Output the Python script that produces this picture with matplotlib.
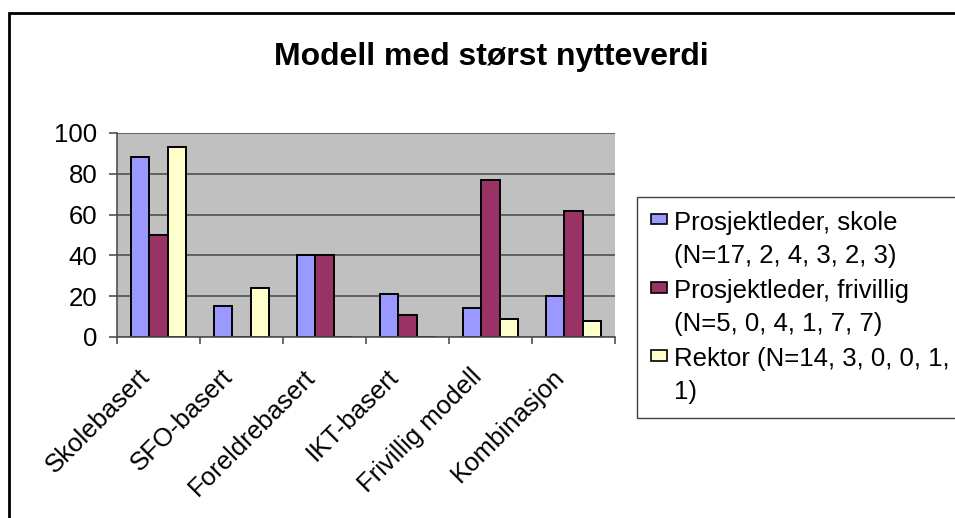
import numpy as np
import matplotlib
matplotlib.use('Agg')
import matplotlib.pyplot as plt
from matplotlib.patches import Patch, Rectangle
from matplotlib.legend_handler import HandlerPatch
from matplotlib.font_manager import FontProperties
from matplotlib.transforms import ScaledTranslation

plt.rcParams['font.family'] = ['Liberation Sans', 'DejaVu Sans']

categories = ['Skolebasert', 'SFO-basert', 'Foreldrebasert', 'IKT-basert',
              'Frivillig modell', 'Kombinasjon']
series_labels = ['Prosjektleder, skole\n(N=17, 2, 4, 3, 2, 3)',
                 'Prosjektleder, frivillig\n(N=5, 0, 4, 1, 7, 7)',
                 'Rektor (N=14, 3, 0, 0, 1,\n1)']
skole = [88, 15, 40, 21, 14, 20]
frivillig = [50, 0, 40, 11, 77, 62]
rektor = [93, 24, 0, 0, 9, 8]
colors = ['#9999FF', '#993366', '#FFFFCC']

FS = 18.5
LINESP = 1.45

fig = plt.figure(figsize=(9.55, 5.18), dpi=100)

# line-to-line distance of a two-line legend label, in points
renderer = fig.canvas.get_renderer()
_, lp_h, lp_d = renderer.get_text_width_height_descent(
    'lp', FontProperties(family=['Liberation Sans'], size=FS), ismath=False)
line_gap = (lp_h - lp_d) * 72 / fig.dpi * LINESP


class TopSquare(HandlerPatch):
    # key box next to the first line of a two-line label
    def create_artists(self, legend, orig_handle, xdescent, ydescent,
                       width, height, fontsize, trans):
        h = 7.4
        yc = line_gap + 1.5
        p = Rectangle((-xdescent, yc - h / 2), width, h,
                      facecolor=orig_handle.get_facecolor(),
                      edgecolor='black', linewidth=1.2, transform=trans)
        return [p]


ax = fig.add_axes([117 / 955, 1 - 337 / 518, 498 / 955, 204 / 518])
ax.set_facecolor('#C0C0C0')

x = np.arange(len(categories))
w = 0.217
for k, vals in enumerate([skole, frivillig, rektor]):
    ax.bar(x + (k - 1) * w, vals, w, color=colors[k], edgecolor='black',
           linewidth=1.4, zorder=3)

ax.set_ylim(0, 100)
ax.set_xlim(-0.5, len(categories) - 0.5)
ax.set_yticks([0, 20, 40, 60, 80, 100])
ax.yaxis.grid(True, color='#505050', linewidth=1.2, zorder=1)
ax.tick_params(axis='y', labelsize=FS, length=6, width=1.2, color='#505050', pad=8)

ax.set_xticks(np.arange(len(categories) + 1) - 0.5)
ax.set_xticklabels([])
ax.tick_params(axis='x', which='major', length=5, width=1.2, color='#505050')
ax.set_xticks(x, minor=True)
ax.set_xticklabels(categories, minor=True, rotation=45, ha='right', fontsize=FS)
ax.tick_params(axis='x', which='minor', length=0, pad=20)
offset = ScaledTranslation(-3 / 72, 0, fig.dpi_scale_trans)
for lbl in ax.get_xticklabels(minor=True):
    lbl.set_transform(lbl.get_transform() + offset)

for side in ['top', 'right']:
    ax.spines[side].set_visible(False)
for side in ['left', 'bottom']:
    ax.spines[side].set_color('#505050')
    ax.spines[side].set_linewidth(1.2)
    ax.spines[side].set_zorder(4)

fig.text(0.514, 1 - 65 / 518, 'Modell med størst nytteverdi', ha='center',
         va='baseline', fontsize=23, fontweight='bold')

handles = [Patch(facecolor=c, edgecolor='black') for c in colors]
leg = fig.legend(handles, series_labels, loc='upper left',
                 bbox_to_anchor=(637 / 955, 1 - 197 / 518), borderaxespad=0,
                 fontsize=FS, fancybox=False, frameon=True, framealpha=1,
                 edgecolor='#404040', handlelength=0.6, handleheight=0.7,
                 handletextpad=0.3, labelspacing=0.45, borderpad=0.55,
                 handler_map={Patch: TopSquare()})
leg.get_frame().set_linewidth(1.0)
for t in leg.get_texts():
    t.set_linespacing(LINESP)

fig.patches.append(Rectangle((9 / 955, -0.1), 1.2, 1.1 - 13 / 518,
                             transform=fig.transFigure, fill=False,
                             edgecolor='black', linewidth=2))

fig.savefig('out.png', dpi=100)
